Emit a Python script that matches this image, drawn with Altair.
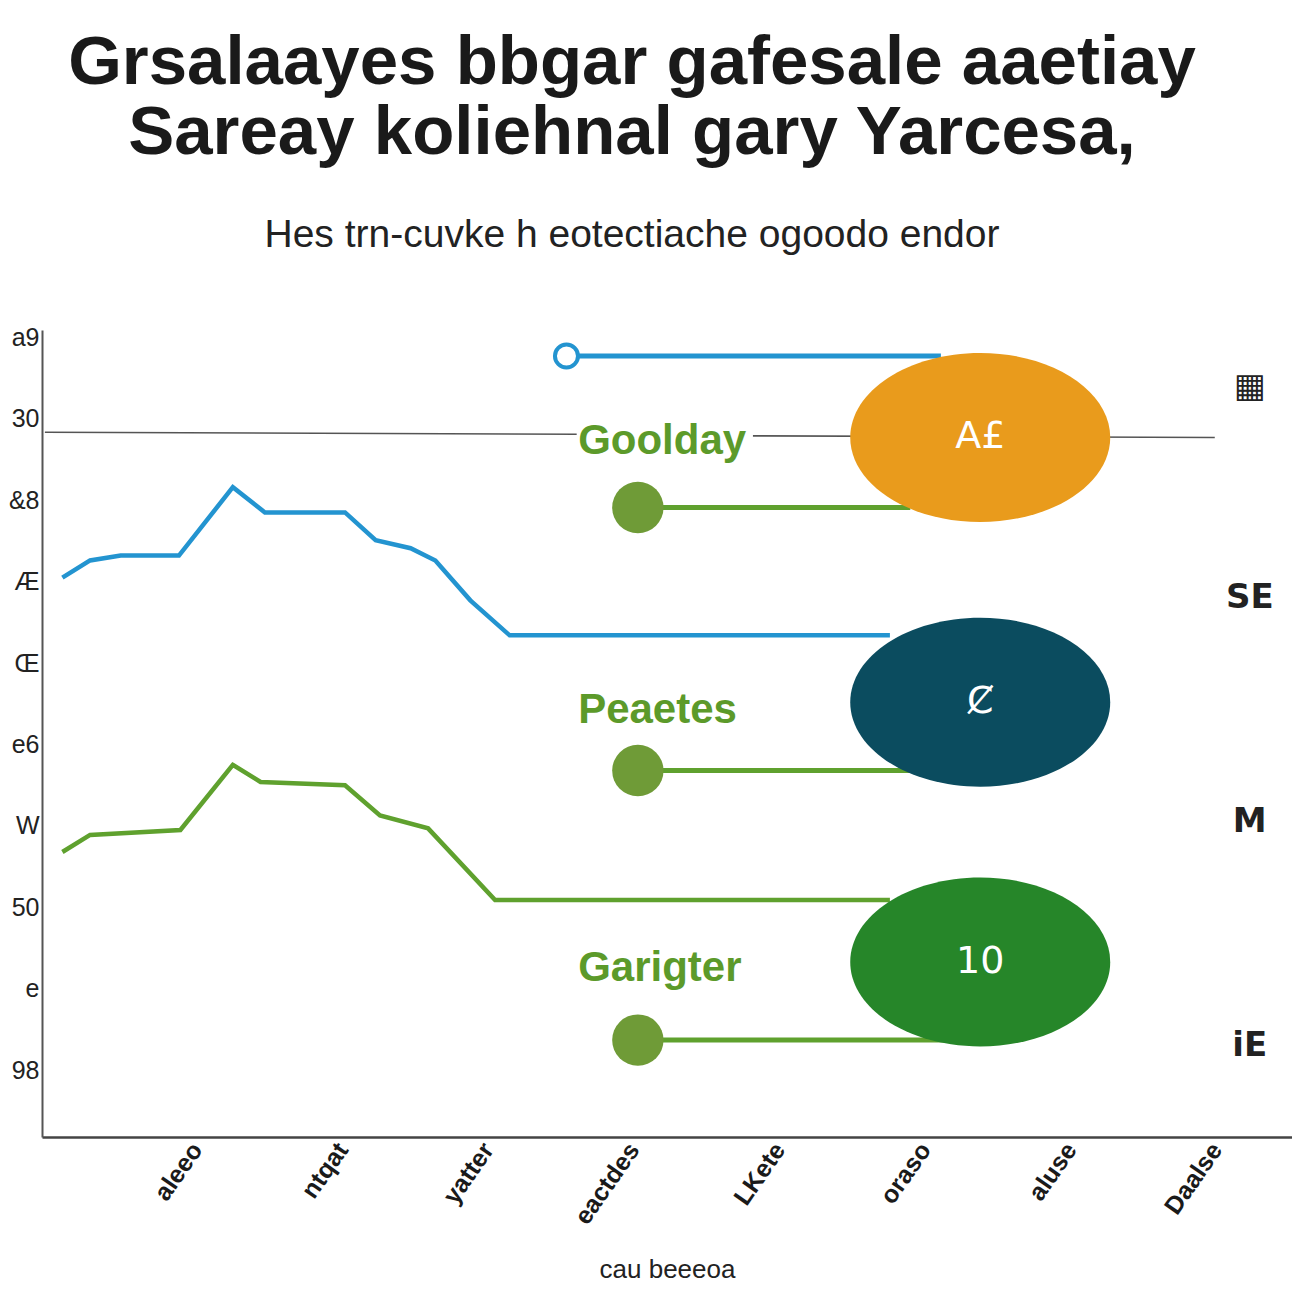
import json
import altair as alt
import pandas as pd

# ---------------- text ----------------
TITLE = ["Grsalaayes bbgar gafesale aaetiay", "Sareay koliehnal gary Yarcesa,"]
SUBTITLE = "Hes trn-cuvke h eotectiache ogoodo endor"
X_TITLE = "cau beeeoa"
X_TICKS = [1, 2, 3, 4, 5, 6, 7, 8]
X_LABELS = ["aleeo", "ntqat", "yatter", "eactdes", "LKete", "oraso", "aluse", "Daalse"]
Y_TICKS = [1, 2, 3, 4, 5, 6, 7, 8, 9, 10]
Y_LABELS = ["98", "e", "50", "W", "e6", "Œ", "Æ", "&8", "30", "a9"]

# ---------------- series ----------------
BLUE_X = [0.08, 0.27, 0.48, 0.88, 1.25, 1.47, 2.02, 2.23, 2.47, 2.64, 2.88, 3.15, 5.76]
BLUE_Y = [7.05, 7.26, 7.32, 7.32, 8.16, 7.85, 7.85, 7.51, 7.41, 7.26, 6.77, 6.34, 6.34]

GREEN_X = [0.08, 0.27, 0.89, 1.25, 1.44, 2.02, 2.26, 2.59, 3.05, 5.76]
GREEN_Y = [3.68, 3.89, 3.95, 4.75, 4.54, 4.50, 4.13, 3.97, 3.09, 3.09]

GRAY_SEG = ["a", "a", "b", "b"]
GRAY_X = [-0.04, 3.61, 4.82, 7.99]
GRAY_Y = [8.835, 8.81, 8.79, 8.77]

LOLLI_KIND = ["ring", "dot", "dot", "dot"]
LOLLI_X = [3.54, 4.03, 4.03, 4.03]
LOLLI_X2 = [6.11, 5.90, 5.90, 6.14]
LOLLI_Y = [9.77, 7.91, 4.68, 1.37]

BUBBLE_X = [6.38, 6.38, 6.38]
BUBBLE_Y = [8.77, 5.52, 2.33]
BUBBLE_TEXT = ["A£", "Ȼ", "10"]
BUBBLE_COLOR = ["#e99b1c", "#0b4c5f", "#268629"]

GROUP_LABELS = ["Goolday", "Peaetes", "Garigter"]
GROUP_X = [3.62, 3.62, 3.62]
GROUP_Y = [8.73, 5.42, 2.25]

SIDE_LABELS = ["▦", "SE", "M", "iE"]
SIDE_X = [8.23, 8.23, 8.23, 8.23]
SIDE_Y = [9.39, 6.80, 4.05, 1.30]

# ---------------- tables ----------------
blue = pd.DataFrame({"x": BLUE_X, "y": BLUE_Y})
green = pd.DataFrame({"x": GREEN_X, "y": GREEN_Y})
gray = pd.DataFrame({"seg": GRAY_SEG, "x": GRAY_X, "y": GRAY_Y})
lolli = pd.DataFrame({"kind": LOLLI_KIND, "x": LOLLI_X, "x2": LOLLI_X2, "y": LOLLI_Y})
bubbles = pd.DataFrame({"x": BUBBLE_X, "y": BUBBLE_Y, "t": BUBBLE_TEXT, "c": BUBBLE_COLOR})
groups = pd.DataFrame({"x": GROUP_X, "y": GROUP_Y, "t": GROUP_LABELS})
side = pd.DataFrame({"x": SIDE_X, "y": SIDE_Y, "t": SIDE_LABELS})

x_expr = json.dumps([""] + X_LABELS) + "[datum.value] || ''"
y_expr = json.dumps([""] + Y_LABELS) + "[datum.value] || ''"

XS = alt.Scale(domain=[-0.06, 8.52], nice=False, zero=False)
YS = alt.Scale(domain=[0.18, 10.09], nice=False, zero=False)

x_axis = alt.Axis(
    values=X_TICKS, labelExpr=x_expr, labelAngle=-55, labelAlign="right",
    labelBaseline="middle", labelFontSize=25, labelFontWeight="bold",
    labelColor="#1a1a1a", labelPadding=8, ticks=False, grid=False,
    domainColor="#444", domainWidth=2.5, title=X_TITLE, titleFontSize=26,
    titleFontWeight="normal", titleColor="#222", titlePadding=28,
    labelFont="Liberation Sans", titleFont="Liberation Sans",
)
y_axis = alt.Axis(
    values=Y_TICKS, labelExpr=y_expr, labelFontSize=25, labelColor="#222",
    labelPadding=3, ticks=False, grid=False, domainColor="#555",
    domainWidth=2, title=None, labelFont="Liberation Sans",
)


def X(f="x"):
    return alt.X(f, type="quantitative", scale=XS, axis=x_axis)


def Y():
    return alt.Y("y:Q", scale=YS, axis=y_axis)


gray_l = alt.Chart(gray).mark_line(color="#555", strokeWidth=1.6).encode(
    x=X(), y=Y(), detail="seg:N")
blue_l = alt.Chart(blue).mark_line(color="#2394d0", strokeWidth=4.5).encode(x=X(), y=Y())
green_l = alt.Chart(green).mark_line(color="#5fa12e", strokeWidth=4.5).encode(x=X(), y=Y())

rules = alt.Chart(lolli).mark_rule(strokeWidth=5).encode(
    x=X(), x2="x2:Q", y=Y(),
    color=alt.Color("kind:N", scale=alt.Scale(domain=["ring", "dot"], range=["#2394d0", "#5fa12e"]), legend=None),
)
ring = alt.Chart(lolli).transform_filter("datum.kind == 'ring'").mark_point(
    filled=True, fill="white", stroke="#2394d0", strokeWidth=4, size=530, opacity=1
).encode(x=X(), y=Y())
dots = alt.Chart(lolli).transform_filter("datum.kind == 'dot'").mark_point(
    filled=True, color="#6f9b37", size=2640, opacity=1
).encode(x=X(), y=Y())

ELLIPSE = "M-1,0A1,0.65,0,1,1,1,0A1,0.65,0,1,1,-1,0Z"
bub = alt.Chart(bubbles).mark_point(filled=True, shape=ELLIPSE, size=67600, opacity=1).encode(
    x=X(), y=Y(), color=alt.Color("c:N", scale=None))
bub_t = alt.Chart(bubbles).mark_text(color="white", fontSize=38, font="DejaVu Sans").encode(
    x=X(), y=Y(), text="t:N")

grp_t = alt.Chart(groups).mark_text(
    color="#5c9a2a", fontSize=42, fontWeight="bold", font="Liberation Sans", align="left"
).encode(x=X(), y=Y(), text="t:N")

side_t = alt.Chart(side).mark_text(
    color="#222", fontSize=34, fontWeight="bold", font="DejaVu Sans"
).encode(x=X(), y=Y(), text="t:N")

chart = alt.layer(gray_l, blue_l, green_l, rules, ring, dots, bub, bub_t, grp_t, side_t).properties(
    width=1250, height=807,
    background="white",
    autosize=alt.AutoSizeParams(type="none"),
    padding={"left": 34, "top": 322, "right": 0, "bottom": 155},
    title=alt.TitleParams(
        text=TITLE, subtitle=SUBTITLE, anchor="middle", dx=-35,
        font="Liberation Sans", fontSize=69, fontWeight="bold", color="#1a1a1a",
        lineHeight=70, subtitleFont="Liberation Sans", subtitleFontSize=39,
        subtitleColor="#222", subtitlePadding=48, offset=70,
    ),
).configure_view(stroke=None)

chart.save("out.html", embed_options={"renderer": "svg", "actions": False})
